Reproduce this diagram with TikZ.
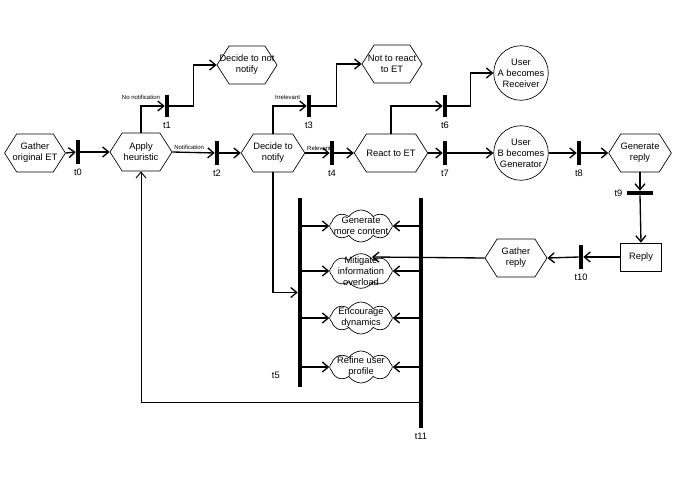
\documentclass[tikz,border=0pt]{standalone}
\usepackage{fontspec}
\setmainfont{Liberation Sans}
\usetikzlibrary{
  arrows.meta,
  positioning,
  shapes.symbols,
  calc
}

\begin{document}
\begin{tikzpicture}[x=0.75pt, y=-0.75pt, font=\fontsize{7}{8.25}\selectfont,
  hexa/.style={signal, signal to=west and east, signal pointer angle=115, draw, line width=0.5pt,
    minimum width=46.5pt, minimum height=28.5pt, inner sep=0pt, align=center},
  state/.style={circle, draw, line width=0.5pt, minimum size=38pt, inner sep=0pt, align=center},
  idea/.style={cloud, cloud puffs=8, cloud puff arc=115, draw, line width=0.5pt,
    minimum width=47pt, minimum height=24pt, inner sep=0pt,
    label={[align=center]center:#1}},
  bar/.style={fill=black, inner sep=0pt, minimum width=3pt, minimum height=18.5pt},
  flow/.style={-{Straight Barb[length=4.5pt, width=7.5pt]}, line width=1pt},
  cond/.style={font=\fontsize{4.5}{5}\selectfont, inner sep=1pt}
]
  \useasboundingbox (0,0) rectangle (692,489);

  % main row
  \node[hexa, minimum width=45pt, inner xsep=-3pt] (gatherET) at (35,153) {Gather\\original ET};
  \node[bar, label=below:t0] (t0) at (78,152) {};
  \node[hexa] (apply) at (141,152) {Apply\\heuristic};
  \node[bar, label=below:t2] (t2) at (217,153) {};
  \node[hexa] (decide) at (273,153) {Decide to\\notify};
  \node[bar, label=below:t4] (t4) at (332,153) {};
  \node[hexa] (react) at (391,153) {React to ET};
  \node[bar, label=below:t7] (t7) at (445,153) {};
  \node[state] (userB) at (521,153) {User\\B becomes\\Generator};
  \node[bar, label=below:t8] (t8) at (579,153) {};
  \node[hexa, minimum width=47pt, inner xsep=-3pt] (genreply) at (640,153) {Generate\\reply};

  % upper branches
  \node[bar, minimum height=17pt, label=below:t1] (t1) at (167,106) {};
  \node[hexa, minimum width=45pt, inner xsep=-9pt] (notnotify) at (247,65) {Decide to not\\notify};
  \node[bar, minimum height=17pt, label=below:t3] (t3) at (309,106) {};
  \node[hexa, minimum width=45pt, inner xsep=-8pt] (noreact) at (392,64) {Not to react\\to ET};
  \node[bar, minimum height=17pt, label=below:t6] (t6) at (445,106) {};
  \node[state] (userA) at (521,73) {User\\A becomes\\Receiver};

  % reply part
  \node[bar, minimum width=19pt, minimum height=3pt, label=left:t9] (t9) at (640,193) {};
  \node[draw, line width=0.5pt, minimum width=31pt, minimum height=21pt] (reply) at (641,257) {Reply};
  \node[bar, label=below:t10] (t10) at (581,257) {};
  \node[hexa] (gatherreply) at (516,258) {Gather\\reply};

  % goals
  \node[bar, minimum height=142pt, label={[label distance=10pt, yshift=-62pt]left:t5}] (t5) at (300,292.5) {};
  \node[bar, minimum height=172.5pt, label=below:t11] (t11) at (421,313) {};
  \node[idea={Generate\\more content}] (content) at (361,226) {};
  \node[idea={Mitigate\\information\\overload}, minimum height=26pt] (overload) at (361,271) {};
  \node[idea={Encourage\\dynamics}] (dynamics) at (361,318) {};
  \node[idea={Refine user\\profile}] (profile) at (361,367) {};
  \coordinate (intake) at (372,257);
  \coordinate (back) at (421,402);

  \draw[flow] (gatherET.east) -- (t0.west);
  \draw[flow] (t0.east) -- (apply.west);
  \draw[flow] (apply.north) |- node[cond, above, pos=0.5, yshift=3pt] {No notification} (t1.west);
  \draw[flow] (t1.east) -- ++(24,0) |- (notnotify.west);
  \draw[flow] (apply.east) -- node[cond, above right, pos=0] {Notification} (t2.west);
  \draw[flow] (t2.east) -- (decide.west);
  \draw[flow] (decide.north) |- node[cond, above right, pos=0.5, yshift=3pt] {Irrelevant} (t3.west);
  \draw[flow] (t3.east) -- ++(25,0) |- (noreact.west);
  \draw[flow] (decide.east) -- node[cond, above right, pos=0] {Relevant} (t4.west);
  \draw[flow] (t4.east) -- (react.west);
  \draw[flow] (react.north) |- (t6.west);
  \draw[flow] (t6.east) -- ++(23,0) |- (userA.west);
  \draw[flow] (react.east) -- (t7.west);
  \draw[flow] (t7.east) -- (userB.west);
  \draw[flow] (userB.east) -- (t8.west);
  \draw[flow] (t8.east) -- (genreply.west);
  \draw[flow] (genreply.south) -- (t9.north);
  \draw[flow] (t9.south) -- (reply.north);
  \draw[flow] (reply.west) -- (t10.east);
  \draw[flow] (t10.west) -- (gatherreply.east);
  \draw[flow] (gatherreply.west) -- (intake);
  \draw[flow] (decide.south) |- (t5.west);
  \foreach \goal in {content, overload, dynamics, profile} {
    \draw[flow] (\goal.west -| t5.east) -- (\goal.west);
    \draw[flow] (\goal.east -| t11.west) -- (\goal.east);
  }
  \draw[flow, line width=0.7pt] (back) -| (apply.south);
\end{tikzpicture}
\end{document}
